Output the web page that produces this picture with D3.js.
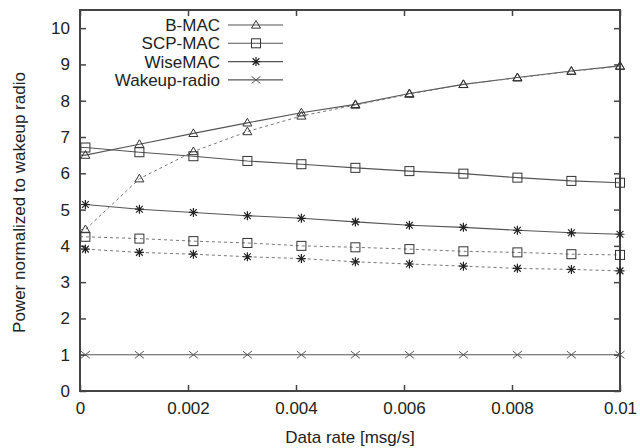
<!DOCTYPE html>
<html>
<head>
<meta charset="utf-8">
<script src="https://cdn.jsdelivr.net/npm/d3@7"></script>
<style>
    body { margin: 0; background: #fff; }
    text { font-family: "Liberation Sans", Arial, sans-serif; fill: #222; }
</style>
</head>
<body>
<div id="chart"></div>
<script>
const width = 640;
const height = 448;
const margin = { top: 10, right: 20, bottom: 57, left: 80 };

// data rate [msg/s]
const rates = [0.0001, 0.0011, 0.0021, 0.0031, 0.0041, 0.0051, 0.0061, 0.0071, 0.0081, 0.0091, 0.01];

const bmac = [6.5, 6.8, 7.1, 7.39, 7.67, 7.9, 8.2, 8.45, 8.64, 8.82, 8.96];
const scpmac = [6.71, 6.58, 6.47, 6.34, 6.25, 6.15, 6.06, 5.99, 5.88, 5.79, 5.74];
const wisemac = [5.14, 5.01, 4.92, 4.83, 4.76, 4.66, 4.57, 4.51, 4.43, 4.36, 4.32];
const wakeup = [1, 1, 1, 1, 1, 1, 1, 1, 1, 1, 1];

// second (dashed) set, not in legend
const bmacB = [4.45, 5.85, 6.6, 7.15, 7.58, 7.88, 8.18, 8.45, 8.63, 8.81, 8.95];
const scpmacB = [4.25, 4.2, 4.13, 4.08, 4.0, 3.96, 3.91, 3.85, 3.82, 3.77, 3.75];
const wisemacB = [3.91, 3.82, 3.77, 3.7, 3.65, 3.56, 3.5, 3.44, 3.38, 3.35, 3.31];

const xTicks = [0, 0.002, 0.004, 0.006, 0.008, 0.01];
const yTicks = [0, 1, 2, 3, 4, 5, 6, 7, 8, 9, 10];

const series = [
    { name: "B-MAC", values: bmac, marker: "triangle", dashed: false, legend: true },
    { name: "SCP-MAC", values: scpmac, marker: "square", dashed: false, legend: true },
    { name: "WiseMAC", values: wisemac, marker: "star", dashed: false, legend: true },
    { name: "Wakeup-radio", values: wakeup, marker: "cross", dashed: false, legend: true },
    { name: "B-MAC 2", values: bmacB, marker: "triangle", dashed: true, legend: false },
    { name: "SCP-MAC 2", values: scpmacB, marker: "square", dashed: true, legend: false },
    { name: "WiseMAC 2", values: wisemacB, marker: "star", dashed: true, legend: false },
];

const svg = d3.select("#chart").append("svg")
    .attr("width", width)
    .attr("height", height);

const innerW = width - margin.left - margin.right;
const innerH = height - margin.top - margin.bottom;

const x = d3.scaleLinear().domain([0, 0.01]).range([0, innerW]);
const y = d3.scaleLinear().domain([0, 10.5]).range([innerH, 0]);

const g = svg.append("g").attr("transform", `translate(${margin.left},${margin.top})`);

const axisColor = "#444";
const tickLen = 6;

// axes with inward ticks on all four sides
const xAxisGroup = g.append("g").attr("transform", `translate(0,${innerH})`)
    .call(d3.axisBottom(x).tickValues(xTicks).tickSize(-tickLen).tickPadding(11)
        .tickFormat(d => d === 0 ? "0" : d3.format("")(+d.toFixed(3))));
const yAxisGroup = g.append("g")
    .call(d3.axisLeft(y).tickValues(yTicks).tickSize(-tickLen).tickPadding(10));
const xTopGroup = g.append("g")
    .call(d3.axisTop(x).tickValues(xTicks).tickSize(-tickLen).tickFormat(""));
const yRightGroup = g.append("g").attr("transform", `translate(${innerW},0)`)
    .call(d3.axisRight(y).tickValues(yTicks).tickSize(-tickLen).tickFormat(""));

[xAxisGroup, yAxisGroup, xTopGroup, yRightGroup].forEach(a => {
    a.select(".domain").remove();
    a.selectAll(".tick line").attr("stroke", axisColor).attr("stroke-width", 1.5);
    a.selectAll(".tick text").style("font-size", "17px").style("font-family", "Liberation Sans, Arial, sans-serif").attr("fill", "#222");
});

g.append("rect")
    .attr("width", innerW)
    .attr("height", innerH)
    .attr("fill", "none")
    .attr("stroke", axisColor)
    .attr("stroke-width", 2);

// marker drawing
const drawMarker = function (sel, type, cx, cy) {
    const s = 4.5;
    if (type === "triangle") {
        sel.append("path")
            .attr("d", `M${cx},${cy - s} L${cx + s},${cy + s * 0.7} L${cx - s},${cy + s * 0.7} Z`)
            .attr("fill", "none").attr("stroke", "#333").attr("stroke-width", 1);
    } else if (type === "square") {
        sel.append("rect")
            .attr("x", cx - s).attr("y", cy - s)
            .attr("width", s * 2).attr("height", s * 2)
            .attr("fill", "none").attr("stroke", "#333").attr("stroke-width", 1);
    } else if (type === "star") {
        sel.append("path")
            .attr("d", `M${cx - s},${cy} L${cx + s},${cy} M${cx},${cy - s} L${cx},${cy + s} M${cx - s * 0.75},${cy - s * 0.75} L${cx + s * 0.75},${cy + s * 0.75} M${cx - s * 0.75},${cy + s * 0.75} L${cx + s * 0.75},${cy - s * 0.75}`)
            .attr("stroke", "#222").attr("stroke-width", 1.2);
    } else if (type === "cross") {
        sel.append("path")
            .attr("d", `M${cx - s},${cy - s * 0.8} L${cx + s},${cy + s * 0.8} M${cx - s},${cy + s * 0.8} L${cx + s},${cy - s * 0.8}`)
            .attr("stroke", "#555").attr("stroke-width", 1);
    }
};

const valueLine = d3.line()
    .x(d => x(d.rate))
    .y(d => y(d.value));

const lines = g.append("g").attr("id", "lines");
series.forEach(s => {
    const pts = rates.map((r, i) => ({ rate: r, value: s.values[i] }));
    lines.append("path")
        .attr("d", valueLine([{ rate: 0, value: s.values[0] }].concat(pts)))
        .attr("fill", "none")
        .attr("stroke", s.dashed ? "#777" : "#555")
        .attr("stroke-width", s.dashed ? 1 : 1.1)
        .attr("stroke-dasharray", s.dashed ? "3,3" : null);
    const m = lines.append("g");
    pts.forEach(p => drawMarker(m, s.marker, x(p.rate), y(p.value)));
});

// legend
const legend = g.append("g").attr("id", "legend");
const legendSeries = series.filter(s => s.legend);
legendSeries.forEach((s, i) => {
    const ly = 15 + i * 18.3;
    legend.append("text")
        .attr("x", 140)
        .attr("y", ly)
        .attr("dy", "0.35em")
        .attr("text-anchor", "end")
        .style("font-size", "17px")
        .text(s.name);
    legend.append("line")
        .attr("x1", 148).attr("x2", 203)
        .attr("y1", ly).attr("y2", ly)
        .attr("stroke", "#555").attr("stroke-width", 1.1);
    drawMarker(legend, s.marker, 176, ly);
});

// axis labels
svg.append("text")
    .attr("x", margin.left + innerW / 2)
    .attr("y", 443)
    .attr("text-anchor", "middle")
    .style("font-size", "17px")
    .text("Data rate [msg/s]");

svg.append("text")
    .attr("transform", `translate(25,${margin.top + innerH / 2 + 2}) rotate(-90)`)
    .attr("text-anchor", "middle")
    .style("font-size", "17px")
    .text("Power normalized to wakeup radio");
</script>
</body>
</html>
